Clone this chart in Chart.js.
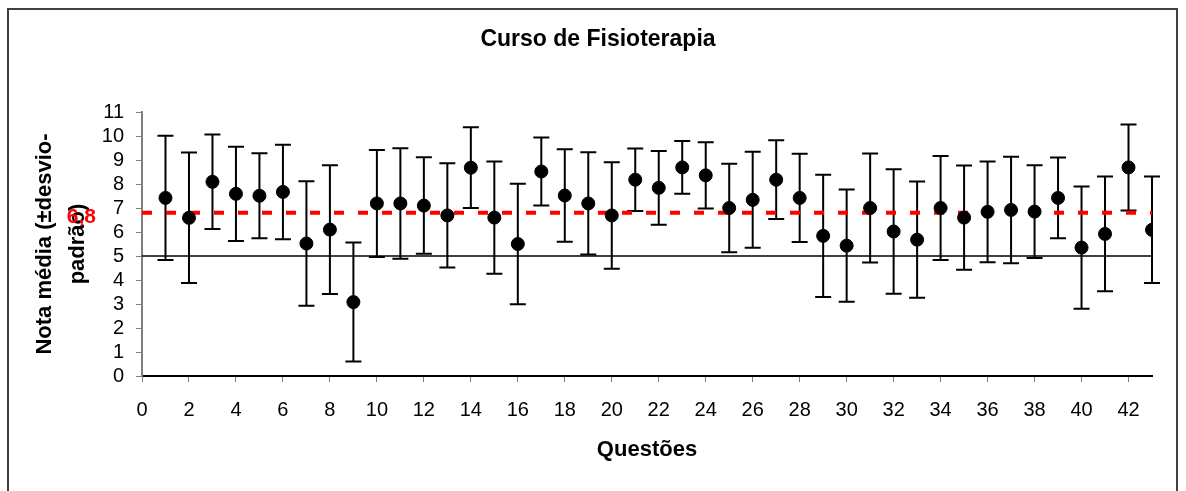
<!DOCTYPE html>
<html>
<head>
<meta charset="utf-8">
<script src="https://cdn.jsdelivr.net/npm/chart.js@4.4.1/dist/chart.umd.min.js"></script>
<style>
  html, body { margin: 0; padding: 0; background: #fff; }
  canvas { display: block; }
</style>
</head>
<body>
<canvas id="fisioChart" width="1186" height="491"></canvas>
<script>
// questões do curso e notas
const questoes = [1, 2, 3, 4, 5, 6, 7, 8, 9, 10, 11, 12, 13, 14, 15, 16, 17, 18, 19, 20, 21, 22,
  23, 24, 25, 26, 27, 28, 29, 30, 31, 32, 33, 34, 35, 36, 37, 38, 39, 40, 41, 42, 43];
const notaMedia = [7.42, 6.59, 8.09, 7.59, 7.51, 7.67, 5.52, 6.10, 3.08, 7.19, 7.19, 7.10, 6.69, 8.68,
  6.60, 5.50, 8.52, 7.52, 7.19, 6.69, 8.18, 7.84, 8.69, 8.36, 7.00, 7.34, 8.18, 7.42, 5.84, 5.43,
  7.00, 6.02, 5.68, 7.00, 6.60, 6.84, 6.92, 6.85, 7.42, 5.35, 5.92, 8.69, 6.09];
const desvioPadrao = [2.59, 2.72, 1.97, 1.96, 1.77, 1.97, 2.59, 2.68, 2.48, 2.23, 2.30, 2.01, 2.17, 1.68,
  2.34, 2.51, 1.42, 1.93, 2.13, 2.22, 1.30, 1.54, 1.10, 1.38, 1.84, 2.00, 1.64, 1.84, 2.55, 2.34,
  2.27, 2.59, 2.42, 2.17, 2.17, 2.10, 2.22, 1.93, 1.68, 2.55, 2.39, 1.79, 2.22];
const mediaGeral = 6.8;
const mediaLabel = '6,8';
const notaMinima = 5;
const tituloGrafico = 'Curso de Fisioterapia';
const xRange = [0, 43];
const xTicks = [0, 2, 4, 6, 8, 10, 12, 14, 16, 18, 20, 22, 24, 26, 28, 30, 32, 34, 36, 38, 40, 42];
const yTicks = [0, 1, 2, 3, 4, 5, 6, 7, 8, 9, 10, 11];

const FONT = '"Liberation Sans", Arial, sans-serif';

const errorBars = {
  id: 'errorBars',
  beforeDatasetsDraw(chart) {
    const { ctx, scales: { x, y } } = chart;
    ctx.save();
    ctx.strokeStyle = '#000';
    ctx.lineWidth = 2;
    questoes.forEach((q, i) => {
      const px = x.getPixelForValue(q);
      const top = y.getPixelForValue(notaMedia[i] + desvioPadrao[i]);
      const bot = y.getPixelForValue(notaMedia[i] - desvioPadrao[i]);
      ctx.beginPath();
      ctx.moveTo(px, top); ctx.lineTo(px, bot);
      ctx.moveTo(px - 8, top); ctx.lineTo(px + 8, top);
      ctx.moveTo(px - 8, bot); ctx.lineTo(px + 8, bot);
      ctx.stroke();
    });
    ctx.restore();
  }
};

const extras = {
  id: 'extras',
  beforeDraw(chart) {
    const { ctx } = chart;
    ctx.save();
    ctx.fillStyle = '#fff';
    ctx.fillRect(0, 0, chart.width, chart.height);
    ctx.strokeStyle = '#404040';
    ctx.lineWidth = 2;
    ctx.strokeRect(8, 9, 1169, 500);
    // título do gráfico (centrado como no original)
    ctx.fillStyle = '#000';
    ctx.font = 'bold 23px ' + FONT;
    ctx.textAlign = 'center';
    ctx.textBaseline = 'middle';
    ctx.fillText(tituloGrafico, 598, 40);
    ctx.restore();
  },
  afterDraw(chart) {
    const { ctx, scales: { y } } = chart;
    ctx.save();
    ctx.fillStyle = '#ff0000';
    ctx.font = 'bold 21px ' + FONT;
    ctx.textAlign = 'right';
    ctx.textBaseline = 'middle';
    ctx.fillText(mediaLabel, 96, y.getPixelForValue(mediaGeral) + 4);
    ctx.restore();
  }
};

new Chart(document.getElementById('fisioChart'), {
  type: 'scatter',
  data: {
    datasets: [
      {
        label: 'Nota média',
        data: questoes.map((q, i) => ({ x: q, y: notaMedia[i] })),
        backgroundColor: '#000',
        borderColor: '#000',
        pointRadius: 6.5,
        order: 0
      },
      {
        label: 'Média geral',
        data: [{ x: xRange[0], y: mediaGeral }, { x: xRange[1], y: mediaGeral }],
        showLine: true,
        borderColor: '#ff0000',
        borderWidth: 4,
        borderDash: [10, 14],
        pointRadius: 0,
        order: 1
      },
      {
        label: 'Nota mínima',
        data: [{ x: xRange[0], y: notaMinima }, { x: xRange[1], y: notaMinima }],
        showLine: true,
        borderColor: '#000',
        borderWidth: 1.5,
        pointRadius: 0,
        order: 2
      }
    ]
  },
  options: {
    responsive: false,
    devicePixelRatio: 1,
    animation: false,
    layout: { padding: { left: 0, right: 34, top: 112, bottom: 0 } },
    plugins: {
      legend: { display: false },
      tooltip: { enabled: false },
      title: { display: false }
    },
    scales: {
      x: {
        type: 'linear',
        min: xRange[0], max: xRange[1],
        afterBuildTicks: s => { s.ticks = xTicks.map(v => ({ value: v })); },
        afterFit: s => { s.height = 115; },
        grid: { display: true, drawOnChartArea: false, tickLength: 6, color: '#808080' },
        border: { color: '#000', width: 2 },
        ticks: { color: '#000', font: { family: FONT, size: 20 }, padding: 16, maxRotation: 0, autoSkip: false },
        title: {
          display: true, text: 'Questões', color: '#000',
          font: { family: FONT, size: 22, weight: 'bold', lineHeight: 1.2 },
          padding: { top: 0, bottom: 28 }
        }
      },
      y: {
        min: yTicks[0], max: yTicks[yTicks.length - 1],
        afterBuildTicks: s => { s.ticks = yTicks.map(v => ({ value: v })); },
        afterFit: s => { s.width = 142; },
        grid: { display: true, drawOnChartArea: false, tickLength: 6, color: '#808080' },
        border: { color: '#808080', width: 2 },
        ticks: { color: '#000', font: { family: FONT, size: 20 }, padding: 12, autoSkip: false },
        title: {
          display: true, text: ['Nota média (±desvio-', 'padrão)'], color: '#000',
          font: { family: FONT, size: 22, weight: 'bold', lineHeight: '33px' },
          padding: { top: 28.5 }
        }
      }
    }
  },
  plugins: [errorBars, extras]
});
</script>
</body>
</html>
